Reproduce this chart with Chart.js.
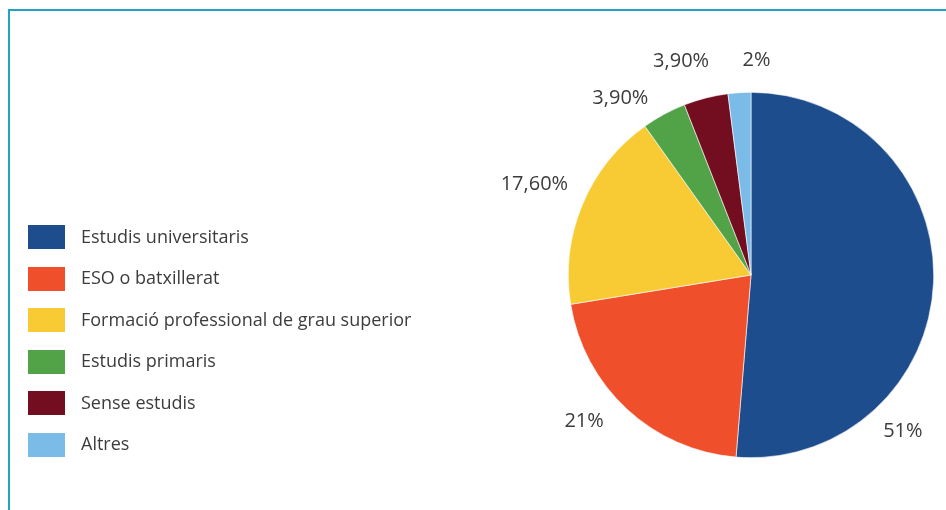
<!DOCTYPE html>
<html lang="ca">
<head>
<meta charset="UTF-8" />
<title>Nivell d'estudis</title>
<script src="https://cdn.jsdelivr.net/npm/chart.js"></script>
<style>
    html, body { margin: 0; padding: 0; background: #fff; }
    body { width: 946px; height: 510px; position: relative; overflow: hidden; font-family: "Open Sans", sans-serif; }
    .frame {
        position: absolute; left: 8px; top: 9px; right: 0; bottom: 0;
        border-top: 2px solid #22a3c2; border-left: 2px solid #22a3c2;
    }
    #pie { position: absolute; left: 0; top: 0; }
    #legend { position: absolute; left: 28px; top: 225px; }
    .row { display: flex; align-items: center; height: 24px; margin-bottom: 17.6px; }
    .box { width: 37px; height: 24px; margin-right: 16px; }
    .txt { font-size: 18px; color: #3c3c3c; white-space: nowrap; margin-top: -3px; }
</style>
</head>
<body>
<div class="frame"></div>
<canvas id="pie" width="946" height="510"></canvas>
<div id="legend"></div>

<script>
    const categories = [
        "Estudis universitaris",
        "ESO o batxillerat",
        "Formació professional de grau superior",
        "Estudis primaris",
        "Sense estudis",
        "Altres"
    ];
    const values = [51, 21, 17.6, 3.9, 3.9, 2];
    const colors = ["#1e4d8e", "#f04f2b", "#f8cb34", "#52a247", "#730e21", "#7abbe8"];

    function fmt(v) {
        return Number.isInteger(v) ? v + "%" : v.toFixed(2).replace(".", ",") + "%";
    }

    // html legend
    const legend = document.getElementById("legend");
    categories.forEach((c, i) => {
        const row = document.createElement("div");
        row.className = "row";
        row.innerHTML = `<div class="box" style="background:${colors[i]}"></div><div class="txt">${c}</div>`;
        legend.appendChild(row);
    });

    // labels outside the slices
    const outLabels = {
        id: "outLabels",
        afterDatasetsDraw(chart, args, opts) {
            const ctx = chart.ctx;
            const meta = chart.getDatasetMeta(0);
            ctx.save();
            ctx.font = "20px 'Open Sans', sans-serif";
            ctx.fillStyle = "#3c3c3c";
            ctx.textAlign = "center";
            ctx.textBaseline = "middle";
            meta.data.forEach((arc, i) => {
                const p = arc.getProps(["x", "y", "startAngle", "endAngle", "outerRadius"], true);
                const f = opts.frac[i];
                const a = p.startAngle + (p.endAngle - p.startAngle) * f;
                const d = p.outerRadius + opts.dist[i];
                ctx.fillText(fmt(values[i]), p.x + Math.cos(a) * d, p.y + Math.sin(a) * d);
            });
            ctx.restore();
        }
    };

    new Chart(document.getElementById("pie"), {
        type: "pie",
        data: {
            labels: categories,
            datasets: [{
                data: values,
                backgroundColor: colors,
                borderColor: "#ffffff",
                borderWidth: 0.6
            }]
        },
        options: {
            responsive: false,
            animation: false,
            layout: { padding: { left: 568, right: 12, top: 92, bottom: 52 } },
            plugins: {
                legend: { display: false },
                tooltip: { enabled: false },
                outLabels: {
                    frac: [0.735, 0.58, 0.5, -0.07, 0.23, 1.2],
                    dist: [35, 39, 52, 37, 42, 32]
                }
            }
        },
        plugins: [outLabels]
    });
</script>
</body>
</html>
